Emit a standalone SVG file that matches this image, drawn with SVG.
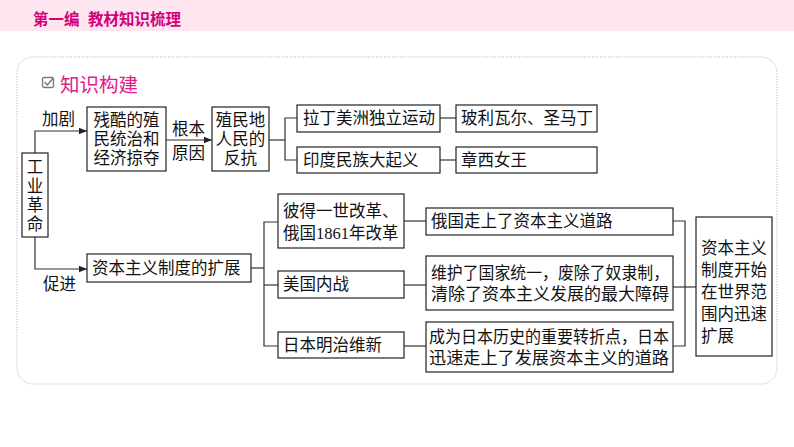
<svg xmlns="http://www.w3.org/2000/svg" width="794" height="447" viewBox="0 0 794 447">
<defs>
<style>
.box{fill:#fff;stroke:#222;stroke-width:1.2}
.t{font-family:"Liberation Serif","Noto Sans CJK SC",serif;font-size:16.5px;fill:#111;dominant-baseline:central}
.c{stroke:#333;stroke-width:1.2;fill:none}
.h{font-family:"Noto Sans CJK SC",sans-serif;font-weight:bold;font-size:15.5px;fill:#d4007a;dominant-baseline:central}
</style>
<marker id="ah" viewBox="0 0 10 10" refX="10" refY="5" markerWidth="8" markerHeight="8" markerUnits="userSpaceOnUse" orient="auto">
<path d="M0,1 L10,5 L0,9 Z" fill="#222"/>
</marker>
</defs>
<rect x="0" y="0" width="794" height="31" fill="#fde6f0"/>
<text class="h" x="33" y="18">第一编</text>
<text class="h" x="88" y="18">教材知识梳理</text>
<rect x="17" y="57" width="760" height="327" rx="16" fill="none" stroke="#d9a3bf" stroke-width="1" stroke-dasharray="1.2,1.5"/>
<g id="title">
<rect x="42.5" y="77.5" width="11" height="10" rx="1.5" fill="none" stroke="#777" stroke-width="1.3"/>
<polyline points="44.5,82 47.3,85 53,78.5" fill="none" stroke="#777" stroke-width="1.4"/>
<text x="60" y="83" font-family="Noto Sans CJK SC, sans-serif" font-size="19.5" fill="#e0208a" dominant-baseline="central">知识构建</text>
</g>
<g id="connectors">
<polyline class="c" points="35,153 35,131 87,131" marker-end="url(#ah)"/>
<line class="c" x1="166" y1="140" x2="212" y2="140" marker-end="url(#ah)"/>
<line class="c" x1="269" y1="140" x2="285" y2="140"/>
<polyline class="c" points="297,118 285,118 285,160 297,160"/>
<line class="c" x1="440" y1="118" x2="456" y2="118"/>
<line class="c" x1="440" y1="160" x2="456" y2="160"/>
<polyline class="c" points="35,237 35,269 87,269" marker-end="url(#ah)"/>
<line class="c" x1="251" y1="268" x2="264" y2="268"/>
<polyline class="c" points="278,222 264,222 264,346 278,346"/>
<line class="c" x1="264" y1="285" x2="278" y2="285"/>
<line class="c" x1="404" y1="221" x2="426" y2="221"/>
<line class="c" x1="404" y1="285" x2="426" y2="285"/>
<line class="c" x1="404" y1="346" x2="426" y2="346"/>
<polyline class="c" points="673,221 685,221 685,346 673,346"/>
<line class="c" x1="673" y1="287" x2="696" y2="287"/>
<text class="t" x="42" y="119">加剧</text>
<text class="t" x="172" y="129">根本</text>
<text class="t" x="172" y="153">原因</text>
<text class="t" x="43" y="284">促进</text>
</g>
<g id="n_gongye">
<rect class="box" x="22" y="153" width="26" height="84"/>
<text class="t" x="35" y="167" text-anchor="middle">工</text>
<text class="t" x="35" y="186" text-anchor="middle">业</text>
<text class="t" x="35" y="205" text-anchor="middle">革</text>
<text class="t" x="35" y="224" text-anchor="middle">命</text>
</g>
<g id="n_canku">
<rect class="box" x="87" y="107" width="79" height="64"/>
<text class="t" x="126.5" y="120" text-anchor="middle">残酷的殖</text>
<text class="t" x="126.5" y="139" text-anchor="middle">民统治和</text>
<text class="t" x="126.5" y="158" text-anchor="middle">经济掠夺</text>
</g>
<g id="n_fankang">
<rect class="box" x="212" y="107" width="57" height="64"/>
<text class="t" x="240.5" y="120" text-anchor="middle">殖民地</text>
<text class="t" x="240.5" y="139" text-anchor="middle">人民的</text>
<text class="t" x="240.5" y="158" text-anchor="middle">反抗</text>
</g>
<g id="n_lading">
<rect class="box" x="297" y="105" width="143" height="27"/>
<text class="t" x="303" y="118.5">拉丁美洲独立运动</text>
</g>
<g id="n_boli">
<rect class="box" x="456" y="105" width="141" height="27"/>
<text class="t" x="461" y="118.5">玻利瓦尔、圣马丁</text>
</g>
<g id="n_yindu">
<rect class="box" x="297" y="147" width="143" height="26"/>
<text class="t" x="303" y="160">印度民族大起义</text>
</g>
<g id="n_zhangxi">
<rect class="box" x="456" y="147" width="141" height="26"/>
<text class="t" x="461" y="160">章西女王</text>
</g>
<g id="n_ziben">
<rect class="box" x="87" y="254" width="164" height="28"/>
<text class="t" x="92" y="268">资本主义制度的扩展</text>
</g>
<g id="n_bide">
<rect class="box" x="278" y="194" width="126" height="54"/>
<text class="t" x="283" y="211">彼得一世改革、</text>
<text class="t" x="283" y="233">俄国1861年改革</text>
</g>
<g id="n_meiguo">
<rect class="box" x="278" y="271" width="126" height="27"/>
<text class="t" x="283" y="284.5">美国内战</text>
</g>
<g id="n_riben">
<rect class="box" x="278" y="332" width="126" height="26"/>
<text class="t" x="283" y="345">日本明治维新</text>
</g>
<g id="n_eguo">
<rect class="box" x="426" y="208" width="247" height="27"/>
<text class="t" x="431" y="221.5">俄国走上了资本主义道路</text>
</g>
<g id="n_weihu">
<rect class="box" x="426" y="256" width="247" height="54"/>
<text class="t" x="431" y="273" textLength="238" lengthAdjust="spacingAndGlyphs">维护了国家统一，废除了奴隶制，</text>
<text class="t" x="431" y="294" textLength="238" lengthAdjust="spacingAndGlyphs">清除了资本主义发展的最大障碍</text>
</g>
<g id="n_chengwei">
<rect class="box" x="426" y="322" width="247" height="50"/>
<text class="t" x="429" y="337" textLength="240" lengthAdjust="spacingAndGlyphs">成为日本历史的重要转折点，日本</text>
<text class="t" x="429" y="358" textLength="240" lengthAdjust="spacingAndGlyphs">迅速走上了发展资本主义的道路</text>
</g>
<g id="n_result">
<rect class="box" x="696" y="217" width="76" height="139"/>
<text class="t" x="701" y="248">资本主义</text>
<text class="t" x="701" y="270">制度开始</text>
<text class="t" x="701" y="292">在世界范</text>
<text class="t" x="701" y="314">围内迅速</text>
<text class="t" x="701" y="336">扩展</text>
</g>
</svg>
